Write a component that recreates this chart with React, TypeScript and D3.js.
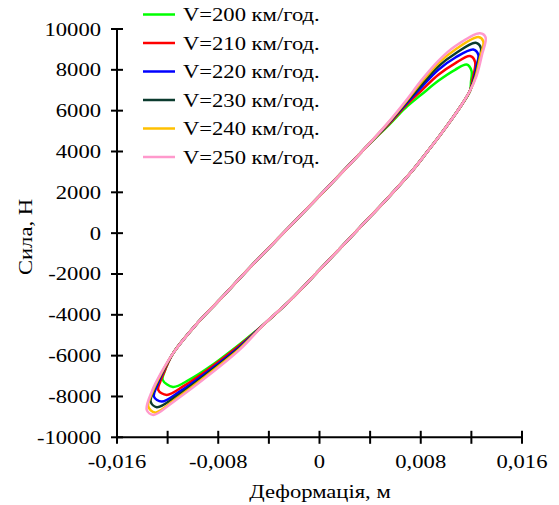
import React from "react";
import * as d3 from "d3";

// ---------- data ----------
const speeds = [200, 210, 220, 230, 240, 250];
const seriesColors = ["#00ff00", "#ff0000", "#0000ff", "#0b3b2e", "#ffc000", "#ff99cc"];

const xTickValues = [-0.016, -0.012, -0.008, -0.004, 0, 0.004, 0.008, 0.012, 0.016];
const xLabelValues = [-0.016, -0.008, 0, 0.008, 0.016];
const yTickValues = [-10000, -8000, -6000, -4000, -2000, 0, 2000, 4000, 6000, 8000, 10000];

// shared rising branch (all series overlap here) [deformation m, force N]
const sharedUp: [number, number][] = [
  [-0.01155, -5865], [-0.00984, -4542], [-0.00786, -3244], [-0.00549, -1676],
  [-0.00273, 88], [0.0, 1828], [0.00344, 4057],
];
// shared falling branch
const sharedDown: [number, number][] = [
  [0.01189, 6973], [0.01118, 6238], [0.01047, 5601], [0.00952, 4792],
  [0.00842, 3910], [0.00739, 3102], [0.00541, 1730], [0.0032, 284],
  [0.0, -1798], [-0.00233, -3293], [-0.00431, -4420],
];

// upper-right tips per speed
const tipHigh200: [number, number][] = [
  [0.00557, 5356], [0.00676, 6115], [0.00808, 6801], [0.00939, 7463], [0.01071, 8002],
  [0.01163, 8261], [0.01201, 7953], [0.01197, 7414],
];
const tipHigh210: [number, number][] = [
  [0.00557, 5405], [0.00676, 6213], [0.00808, 6997], [0.00939, 7757], [0.01071, 8320],
  [0.01189, 8673], [0.01229, 8394], [0.01209, 7512],
];
const tipHigh220: [number, number][] = [
  [0.00557, 5454], [0.00676, 6287], [0.00808, 7169], [0.00939, 8002], [0.01071, 8590],
  [0.01215, 8996], [0.01255, 8737], [0.01241, 8198], [0.01217, 7512],
];
const tipHigh230: [number, number][] = [
  [0.00557, 5478], [0.00676, 6336], [0.00808, 7291], [0.00939, 8173], [0.01071, 8786],
  [0.01234, 9325], [0.01276, 9055], [0.01256, 8394], [0.01225, 7610],
];
const tipHigh240: [number, number][] = [
  [0.00557, 5503], [0.00676, 6385], [0.00808, 7414], [0.00939, 8320], [0.01071, 8982],
  [0.01255, 9604], [0.01294, 9398], [0.01268, 8590], [0.01233, 7659],
];
const tipHigh250: [number, number][] = [
  [0.00557, 5527], [0.00676, 6434], [0.00808, 7512], [0.00939, 8443], [0.01071, 9153],
  [0.01268, 9790], [0.01312, 9594], [0.01284, 8737], [0.01241, 7708],
];

// lower-left tips per speed
const tipLow200: [number, number][] = [
  [-0.00628, -5424], [-0.00891, -6649], [-0.01031, -7188], [-0.01158, -7531],
  [-0.01239, -7188], [-0.01225, -6796], [-0.01197, -6355],
];
const tipLow210: [number, number][] = [
  [-0.00628, -5473], [-0.00891, -6723], [-0.01071, -7482], [-0.01207, -7923],
  [-0.01274, -7678], [-0.01256, -7237], [-0.01221, -6698],
];
const tipLow220: [number, number][] = [
  [-0.00628, -5547], [-0.00891, -6821], [-0.01102, -7752], [-0.01247, -8252],
  [-0.01308, -8007], [-0.01284, -7482], [-0.01237, -6796],
];
const tipLow230: [number, number][] = [
  [-0.00628, -5596], [-0.00891, -6894], [-0.01126, -7972], [-0.01286, -8526],
  [-0.01334, -8252], [-0.01308, -7678], [-0.01244, -6845],
];
const tipLow240: [number, number][] = [
  [-0.00628, -5645], [-0.00891, -6968], [-0.01142, -8144], [-0.013, -8791],
  [-0.01353, -8487], [-0.01323, -7825], [-0.01252, -6894],
];
const tipLow250: [number, number][] = [
  [-0.00628, -5694], [-0.00891, -7041], [-0.01155, -8266], [-0.01313, -8903],
  [-0.01365, -8658], [-0.01323, -7727], [-0.01252, -6845],
];

const tipsHigh = [tipHigh200, tipHigh210, tipHigh220, tipHigh230, tipHigh240, tipHigh250];
const tipsLow = [tipLow200, tipLow210, tipLow220, tipLow230, tipLow240, tipLow250];

const xTitle = "Деформація, м";
const yTitle = "Сила, Н";

// ---------- layout ----------
const W = 559;
const H = 505;
const FONT = "'Liberation Serif', 'Times New Roman', serif";
const FS = 19;
const SX = 1.19;

const x = d3.scaleLinear().domain([-0.016, 0.016]).range([117, 522]);
const y = d3.scaleLinear().domain([-10000, 10000]).range([437.3, 29]);

const fmtX = (v: number) => (v === 0 ? "0" : v.toFixed(3).replace(".", ","));

function Txt(props: { x: number; y: number; anchor?: string; rotate?: number; children: React.ReactNode }) {
  const { x: tx, y: ty, anchor = "start", rotate = 0, children } = props;
  return (
    <text
      transform={`translate(${tx},${ty}) rotate(${rotate}) scale(${SX},1)`}
      textAnchor={anchor}
      fontFamily={FONT}
      fontSize={FS}
      fill="#000"
    >
      {children}
    </text>
  );
}

export default function App() {
  const line = d3
    .line<[number, number]>()
    .x((d) => x(d[0]))
    .y((d) => y(d[1]))
    .curve(d3.curveCatmullRomClosed.alpha(0.5));

  const loops = speeds.map((_, i) => [...sharedUp, ...tipsHigh[i], ...sharedDown, ...tipsLow[i]]);

  const axisY = y(-10000);
  const axisX = x(-0.016);

  return (
    <svg
      width={W}
      height={H}
      style={{ position: "absolute", left: 0, top: 0, background: "#fff" }}
    >
      <rect x={0} y={0} width={W} height={H} fill="#fff" />
      {/* curves */}
      {loops.map((pts, i) => (
        <path key={i} d={line(pts) || ""} fill="none" stroke={seriesColors[i]} strokeWidth={2.5} />
      ))}

      {/* y axis */}
      <line x1={axisX} x2={axisX} y1={y(10000)} y2={axisY} stroke="#000" strokeWidth={2} />
      {yTickValues.map((v) => (
        <g key={v}>
          <line x1={axisX - 6} x2={axisX + 6} y1={y(v)} y2={y(v)} stroke="#000" strokeWidth={2} />
          <Txt x={101} y={y(v) + 6.5} anchor="end">
            {String(v)}
          </Txt>
        </g>
      ))}

      {/* x axis */}
      <line x1={axisX} x2={x(0.016)} y1={axisY} y2={axisY} stroke="#000" strokeWidth={2} />
      {xTickValues.map((v) => (
        <line key={v} x1={x(v)} x2={x(v)} y1={axisY - 6.5} y2={axisY + 6.5} stroke="#000" strokeWidth={2} />
      ))}
      {xLabelValues.map((v) => (
        <Txt key={v} x={x(v)} y={468} anchor="middle">
          {fmtX(v)}
        </Txt>
      ))}

      {/* titles */}
      <Txt x={320} y={498} anchor="middle">
        {xTitle}
      </Txt>
      <Txt x={31.5} y={237} anchor="middle" rotate={-90}>
        {yTitle}
      </Txt>

      {/* legend */}
      {speeds.map((s, i) => {
        const cy = 14.5 + i * 28.5;
        return (
          <g key={s}>
            <line x1={143} x2={175} y1={cy} y2={cy} stroke={seriesColors[i]} strokeWidth={2.5} />
            <Txt x={183} y={cy + 6.5}>{`V=${s} км/год.`}</Txt>
          </g>
        );
      })}
    </svg>
  );
}
